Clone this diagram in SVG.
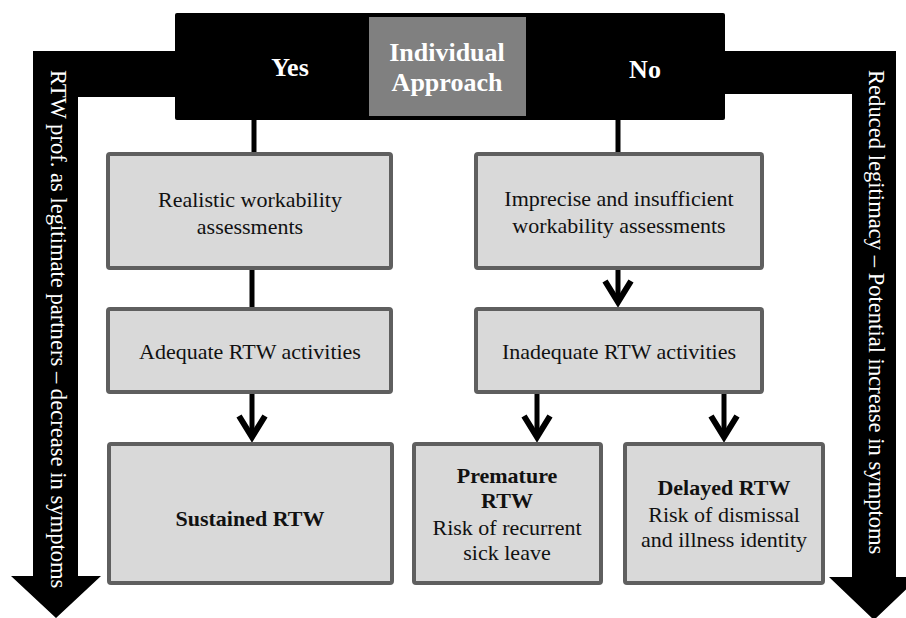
<svg xmlns="http://www.w3.org/2000/svg" width="906" height="618" viewBox="0 0 906 618" font-family="'Liberation Serif', 'Times New Roman', 'DejaVu Serif', serif">
<style>
.box{fill:#d9d9d9;stroke:#5f5f5f;stroke-width:4}
.t{font-size:22px;fill:#111;text-anchor:middle}
.b{font-weight:bold}
.big{font-size:26px;font-weight:bold;fill:#fff;text-anchor:middle}
.side{font-size:22.6px;fill:#fff}
.shaft{stroke:#000;stroke-width:5;fill:none}
.chev{stroke:#000;stroke-width:6;fill:none;stroke-linejoin:miter}
</style>
<rect width="906" height="618" fill="#fff"/>
<g id="left-arrow">
<polygon points="33,51 180,51 180,97 78,97 78,576 101,576 56,618 11,576 33,576" fill="#000"/>
<text class="side" transform="translate(51,70) rotate(90)">RTW prof. as legitimate partners – decrease in symptoms</text>
</g>
<g id="right-arrow">
<polygon points="720,51 896,51 896,577 919,577 874,620 829,577 852,577 852,94 720,94" fill="#000"/>
<text class="side" transform="translate(869,70) rotate(90)">Reduced legitimacy – Potential increase in symptoms</text>
</g>
<g id="top-bar">
<rect x="175" y="13" width="550" height="107" rx="2" fill="#000"/>
<text class="big" x="290" y="76">Yes</text>
<text class="big" x="645" y="78">No</text>
</g>
<g id="individual-approach">
<rect x="369" y="17" width="157" height="99" fill="#808080"/>
<text class="big" x="447" y="61">Individual</text>
<text class="big" x="447" y="91">Approach</text>
</g>
<g id="connectors">
<path class="shaft" d="M254,120V154"/>
<path class="shaft" d="M618,120V154"/>
<path class="shaft" d="M252,268V309"/>
<path class="shaft" d="M252,392V436"/>
<polyline class="chev" points="239,416 252,437 265,416"/>
<path class="shaft" d="M618,268V300"/>
<polyline class="chev" points="605,281 618,302 631,281"/>
<path class="shaft" d="M537,392V436"/>
<polyline class="chev" points="524,416 537,437 550,416"/>
<path class="shaft" d="M724,392V436"/>
<polyline class="chev" points="711,416 724,437 737,416"/>
</g>
<g id="realistic">
<rect class="box" x="108" y="154" width="283" height="114" rx="2"/>
<text class="t" x="250" y="207">Realistic workability</text>
<text class="t" x="250" y="234">assessments</text>
</g>
<g id="adequate">
<rect class="box" x="108" y="309" width="283" height="83" rx="2"/>
<text class="t" x="250" y="359">Adequate RTW activities</text>
</g>
<g id="sustained">
<rect class="box" x="109" y="444" width="283" height="139" rx="2"/>
<text class="t b" x="250" y="526">Sustained RTW</text>
</g>
<g id="imprecise">
<rect class="box" x="476" y="154" width="286" height="114" rx="2"/>
<text class="t" x="619" y="206">Imprecise and insufficient</text>
<text class="t" x="619" y="233">workability assessments</text>
</g>
<g id="inadequate">
<rect class="box" x="476" y="309" width="286" height="83" rx="2"/>
<text class="t" x="619" y="359">Inadequate RTW activities</text>
</g>
<g id="premature">
<rect class="box" x="414" y="444" width="187" height="139" rx="2"/>
<text class="t b" x="507" y="483">Premature</text>
<text class="t b" x="507" y="508">RTW</text>
<text class="t" x="507" y="535">Risk of recurrent</text>
<text class="t" x="507" y="560">sick leave</text>
</g>
<g id="delayed">
<rect class="box" x="625" y="444" width="198" height="139" rx="2"/>
<text class="t b" x="724" y="495">Delayed RTW</text>
<text class="t" x="724" y="522">Risk of dismissal</text>
<text class="t" x="724" y="547">and illness identity</text>
</g>
</svg>
